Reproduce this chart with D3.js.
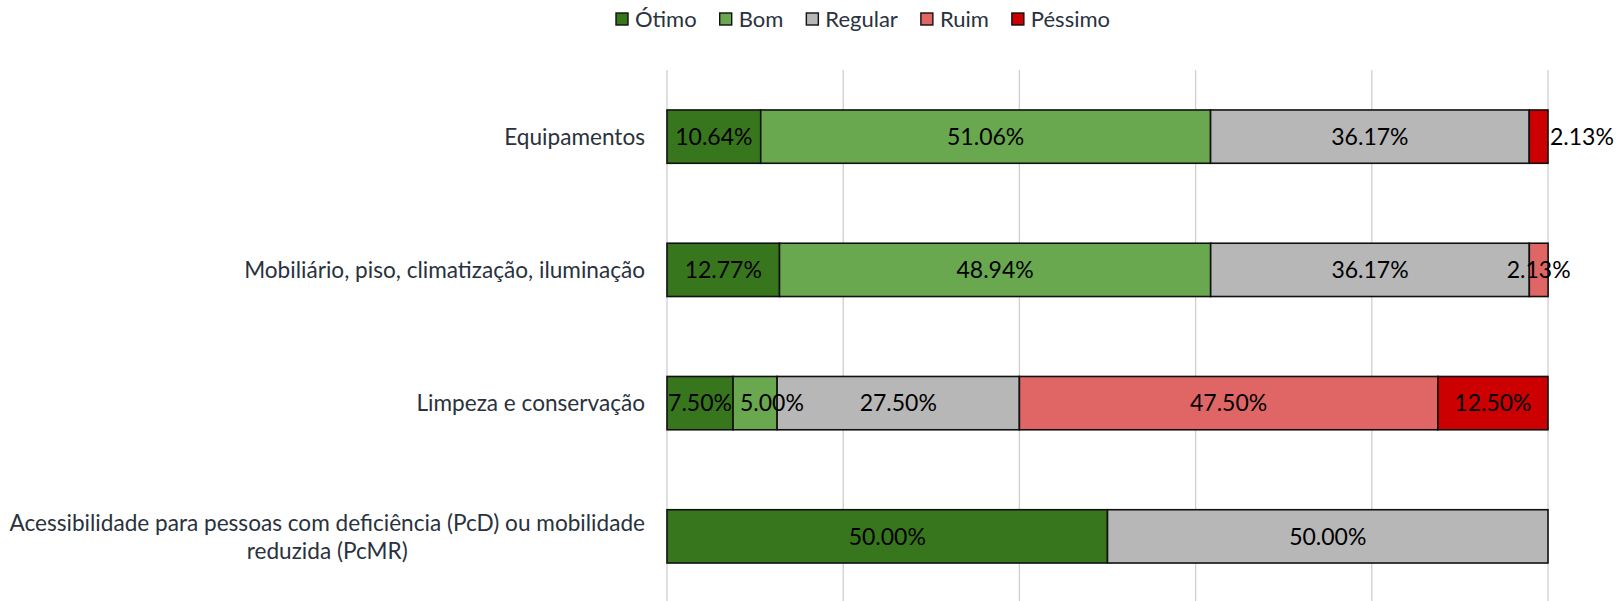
<!DOCTYPE html>
<html>
<head>
<meta charset="utf-8">
<script src="https://cdn.jsdelivr.net/npm/d3@7"></script>
<style>
  body { margin: 0; background: #fff; }
  text { font-family: Lato, "Open Sans", sans-serif; }
</style>
</head>
<body>
<svg id="chart"></svg>
<script>
// Stacked 100% horizontal bars, satisfaction per item

const WIDTH = 1622;
const HEIGHT = 601;

const categories = [
    "Equipamentos",
    "Mobiliário, piso, climatização, iluminação",
    "Limpeza e conservação",
    "Acessibilidade para pessoas com deficiência (PcD) ou mobilidade reduzida (PcMR)"
];
const seriesNames = ["Ótimo", "Bom", "Regular", "Ruim", "Péssimo"];
const seriesColors = ["#38761d", "#6aa84f", "#b7b7b7", "#e06666", "#cc0000"];

const otimo   = [10.64, 12.77,  7.50, 50.00];
const bom     = [51.06, 48.94,  5.00,  0];
const regular = [36.17, 36.17, 27.50, 50.00];
const ruim    = [ 0,     2.13, 47.50,  0];
const pessimo = [ 2.13,  0,    12.50,  0];

const xTicks = [0, 20, 40, 60, 80, 100];

const seriesValues = [otimo, bom, regular, ruim, pessimo];
const rows = categories.map((c, i) => {
    const r = { category: c };
    seriesNames.forEach((s, k) => { r[s] = seriesValues[k][i]; });
    return r;
});

const margin = { top: 70, right: 74, bottom: -2, left: 667 };

const svg = d3.select("#chart")
    .attr("width", WIDTH)
    .attr("height", HEIGHT);

const x = d3.scaleLinear()
    .domain([0, 100])
    .range([margin.left, WIDTH - margin.right]);

const y = d3.scaleBand()
    .domain(categories)
    .range([margin.top, HEIGHT - margin.bottom])
    .paddingInner(0.6)
    .paddingOuter(0.3);

// Gridlines
svg.append("g")
    .selectAll("line")
    .data(xTicks)
    .join("line")
    .attr("x1", d => x(d)).attr("x2", d => x(d))
    .attr("y1", margin.top).attr("y2", HEIGHT)
    .attr("stroke", "#cfcfcf")
    .attr("stroke-width", 1.3);

const stack = d3.stack().keys(seriesNames);
const stacked = stack(rows);

// Bars
const layers = svg.append("g")
    .selectAll("g")
    .data(stacked)
    .join("g")
    .attr("fill", (d, i) => seriesColors[i]);

layers.selectAll("rect")
    .data(d => d.filter(s => s[1] - s[0] > 0))
    .join("rect")
    .attr("x", d => x(d[0]))
    .attr("width", d => x(d[1]) - x(d[0]))
    .attr("y", d => y(d.data.category))
    .attr("height", y.bandwidth())
    .attr("stroke", "#111")
    .attr("stroke-width", 1.6);

// Value labels: centred in segment, pushed right if they collide
const labelG = svg.append("g");
categories.forEach((cat, ci) => {
    let prevRight = -Infinity;
    stacked.forEach((layer, si) => {
        const seg = layer[ci];
        const v = seg[1] - seg[0];
        if (v <= 0) return;
        const t = labelG.append("text")
            .attr("y", y(cat) + y.bandwidth() / 2)
            .attr("dy", "0.36em")
            .attr("font-size", "23px")
            .attr("fill", "#000")
            .text(v.toFixed(2) + "%");
        const w = t.node().getComputedTextLength();
        const x0 = x(seg[0]), x1 = x(seg[1]);
        let left = (x0 + x1) / 2 - w / 2;
        if (si === seriesNames.length - 1 && w > x1 - x0) left = x1 + 2;
        if (left < prevRight + 8) left = prevRight + 8;
        t.attr("x", left);
        prevRight = left + w;
    });
});

// Category labels (wrapped, block right-aligned, lines centred)
const labelRight = 645;
const lineH = 28;
const catFont = "22.6px";
categories.forEach(cat => {
    const g = svg.append("g");
    const probe = g.append("text").attr("font-size", catFont);
    const words = cat.split(" ");
    const lines = [];
    let cur = "";
    words.forEach(wd => {
        const test = cur ? cur + " " + wd : wd;
        probe.text(test);
        if (probe.node().getComputedTextLength() > 645 && cur) {
            lines.push(cur);
            cur = wd;
        } else {
            cur = test;
        }
    });
    lines.push(cur);
    const widths = lines.map(l => { probe.text(l); return probe.node().getComputedTextLength(); });
    probe.remove();
    const maxW = d3.max(widths);
    const cx = labelRight - maxW / 2;
    const cy = y(cat) + y.bandwidth() / 2;
    lines.forEach((l, i) => {
        g.append("text")
            .attr("x", cx)
            .attr("y", cy + (i - (lines.length - 1) / 2) * lineH)
            .attr("dy", "0.36em")
            .attr("text-anchor", "middle")
            .attr("font-size", catFont)
            .attr("fill", "#29323d")
            .text(l);
    });
});

// Legend
const legend = svg.append("g").attr("transform", "translate(616, 19)");
let lx = 0;
seriesNames.forEach((name, i) => {
    legend.append("rect")
        .attr("x", lx).attr("y", -6)
        .attr("width", 12).attr("height", 12)
        .attr("fill", seriesColors[i])
        .attr("stroke", "#111")
        .attr("stroke-width", 1.4);
    const t = legend.append("text")
        .attr("x", lx + 19)
        .attr("dy", "0.36em")
        .attr("font-size", "22px")
        .attr("fill", "#29323d")
        .text(name);
    lx += 19 + t.node().getComputedTextLength() + 23;
});
</script>
</body>
</html>
